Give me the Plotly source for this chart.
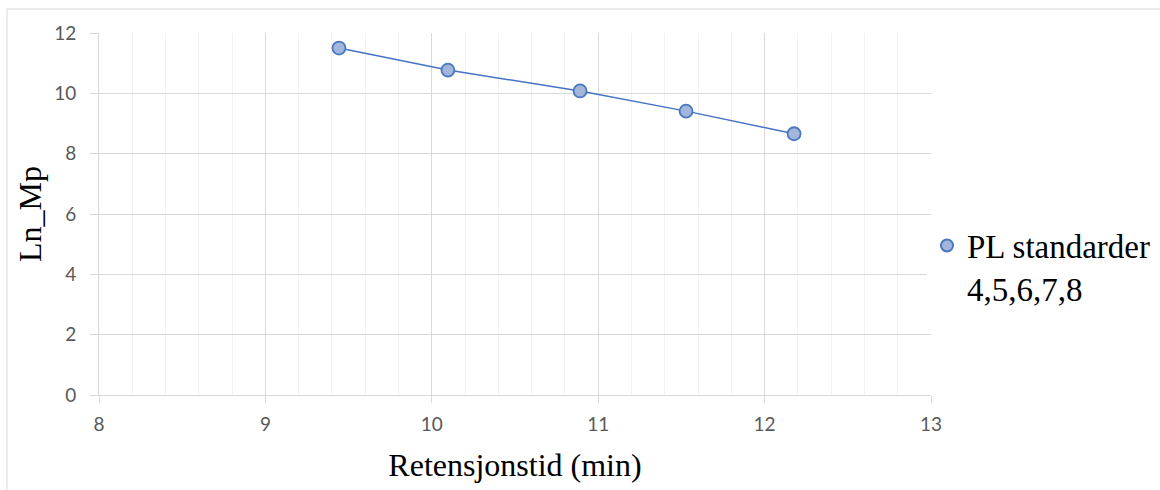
import plotly.graph_objects as go

# Data
retention_time = [9.442, 10.097, 10.891, 11.528, 12.177]
ln_mp = [11.50, 10.77, 10.08, 9.41, 8.66]
series_name = "PL standarder<br>4,5,6,7,8"
x_title = "Retensjonstid (min)"
y_title = "Ln_Mp"
x_ticks = [8, 9, 10, 11, 12, 13]
y_ticks = [0, 2, 4, 6, 8, 10, 12]

W, H = 1160, 490
L, R, T, B = 99, 229, 33, 95
pw, ph = W - L - R, H - T - B

fig = go.Figure()
fig.add_trace(go.Scatter(
    x=retention_time, y=ln_mp, mode="lines",
    line=dict(color="#4472C4", width=1.5), showlegend=False, hoverinfo="skip"))
fig.add_trace(go.Scatter(
    x=retention_time, y=ln_mp, mode="markers", name=series_name,
    marker=dict(size=13, color="#A2B6DC", line=dict(color="#4A78BE", width=1.8))))

tickfont = dict(family="Lato, Open Sans, sans-serif", size=19, color="#595959")
titlefont = dict(family="Liberation Serif, Times New Roman, serif", size=32, color="#000000")

fig.update_layout(
    width=W, height=H,
    margin=dict(l=L, r=R, t=T, b=B, autoexpand=False),
    paper_bgcolor="white", plot_bgcolor="white",
    showlegend=True,
    legend=dict(xref="container", yref="container", x=927 / W, y=0.5 - 22 / H,
                xanchor="left", yanchor="middle", valign="top",
                font=dict(family="Liberation Serif, Times New Roman, serif", size=33, color="#000000"),
                itemsizing="constant", itemwidth=30, tracegroupgap=0),
    xaxis=dict(range=[8, 13], tickvals=x_ticks, ticktext=[str(v) for v in x_ticks],
               showgrid=True, gridcolor="#D9D9D9", gridwidth=1,
               minor=dict(dtick=0.2, showgrid=True, gridcolor="#F2F2F2", gridwidth=1),
               showline=True, linecolor="#D9D9D9", linewidth=1,
               ticks="outside", ticklen=7, tickcolor="#D9D9D9",
               ticklabelstandoff=5,
               tickfont=tickfont, zeroline=False,
               title=dict(text=x_title, font=titlefont, standoff=19)),
    yaxis=dict(range=[0, 12], tickvals=y_ticks, ticktext=[str(v) for v in y_ticks],
               showgrid=True, gridcolor="#D9D9D9", gridwidth=1,
               showline=True, linecolor="#D9D9D9", linewidth=1,
               ticks="outside", ticklen=8, tickcolor="#D9D9D9",
               ticklabelstandoff=10,
               tickfont=tickfont, zeroline=False),
    annotations=[dict(text=y_title, xref="paper", yref="paper",
                      x=(30 - L) / pw, y=0.5, xanchor="center", yanchor="middle",
                      textangle=-90, showarrow=False, font=titlefont)],
    shapes=[dict(type="rect", xref="paper", yref="paper",
                 x0=(7 - L) / pw, x1=(W + 10 - L) / pw,
                 y0=-(B + 10) / ph, y1=1 + (T - 9) / ph,
                 line=dict(color="#D9D9D9", width=1), fillcolor="rgba(0,0,0,0)", layer="below")],
)

fig.write_html("out.html")
